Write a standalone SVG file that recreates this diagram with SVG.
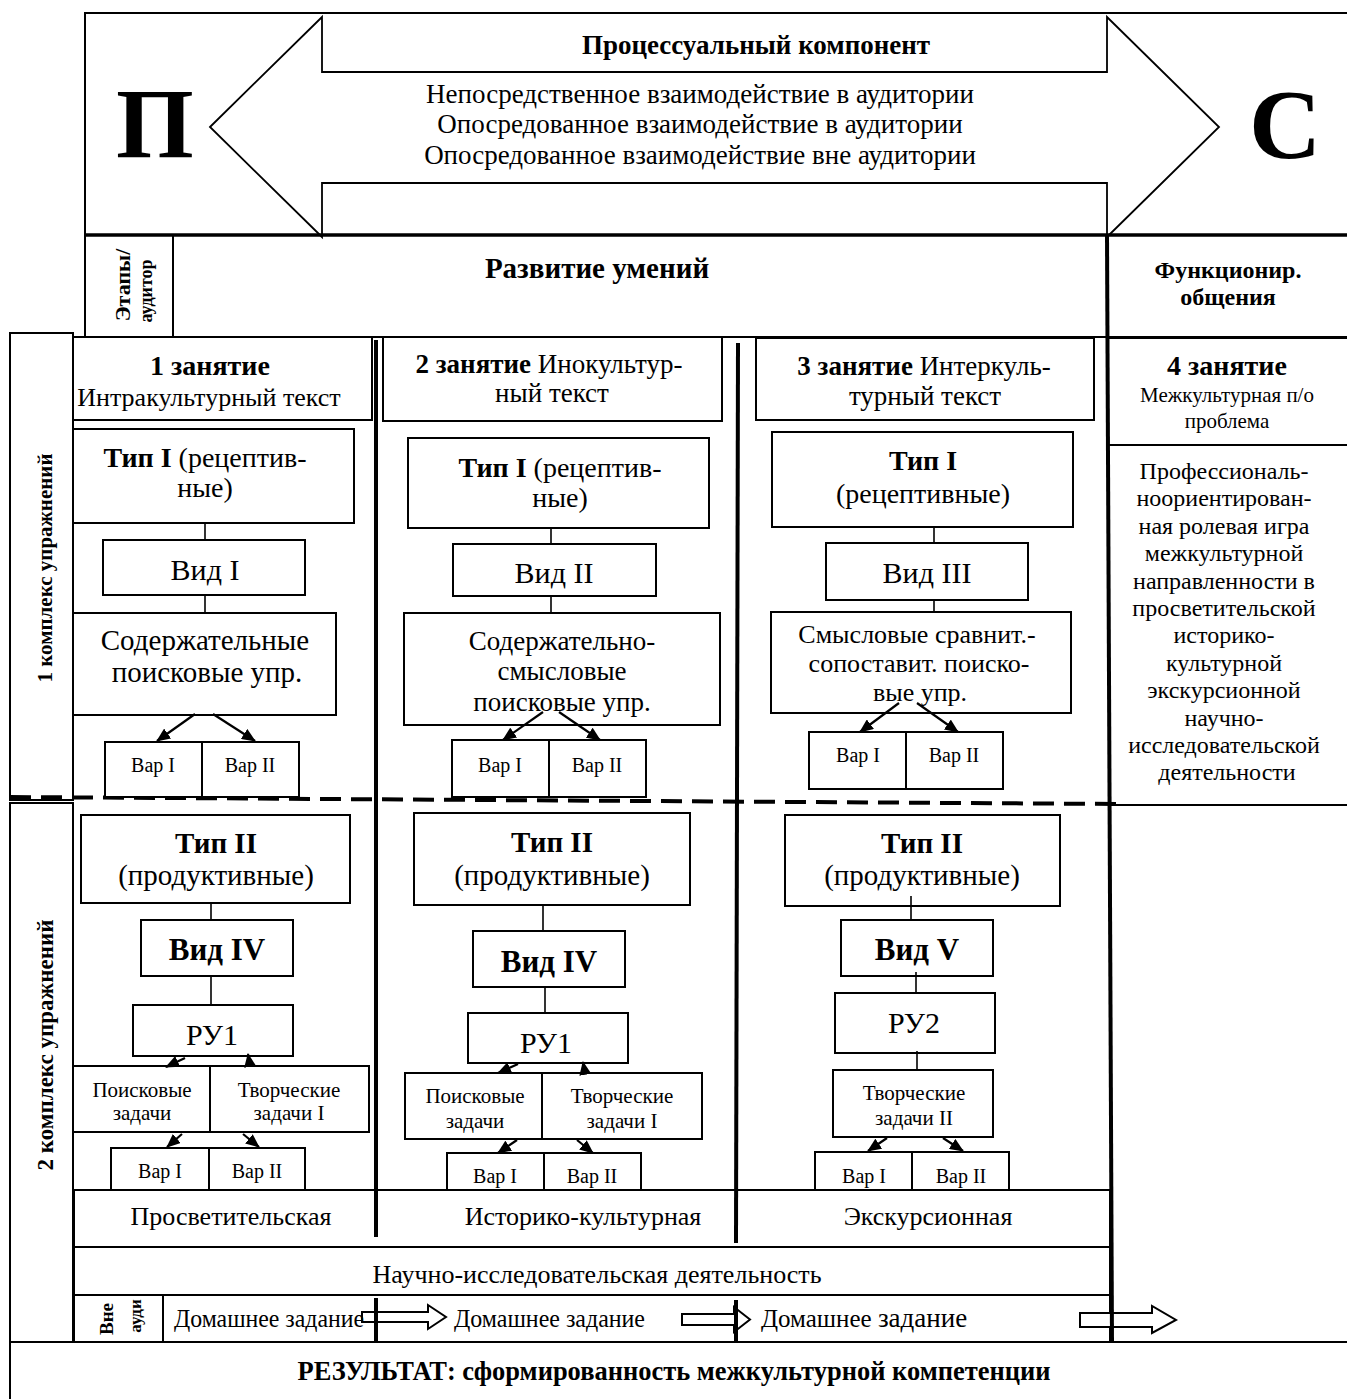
<svg xmlns="http://www.w3.org/2000/svg" width="1347" height="1399" viewBox="0 0 1347 1399">
<defs>
<style>
.b{fill:#fff;stroke:#000;stroke-width:2}
.o{fill:none;stroke:#000;stroke-width:2}
.t{font-family:'Liberation Serif','Times New Roman',serif;fill:#000;text-anchor:middle}
.s{text-anchor:start}
.bd{font-weight:bold}
.c{stroke:#000;stroke-width:1.6;fill:none}
.a{stroke:#000;stroke-width:2.2;fill:none;marker-end:url(#ah)}
.k{stroke:#000;stroke-width:4;fill:none}
.ba{fill:#fff;stroke:#000;stroke-width:2}
</style>
<marker id="ah" markerWidth="14" markerHeight="12" refX="13" refY="6" orient="auto" markerUnits="userSpaceOnUse"><path d="M0,0 L14,6 L0,12 z" fill="#000"/></marker>
</defs>
<rect width="1347" height="1399" fill="#fff"/>

<g id="top-frame">
<rect class="o" x="85" y="13" width="1275" height="222"/>
<text class="t bd" x="155" y="157" font-size="100">П</text>
<text class="t bd" x="1285" y="158" font-size="100">С</text>
</g>

<g id="process-arrow">
<polygon points="210,127 322,17 322,72 1107,72 1107,17 1219,127 1107,237 1107,183 322,183 322,237" fill="#fff" stroke="#000" stroke-width="1.8"/>
<text class="t bd" x="756" y="54" font-size="27">Процессуальный компонент</text>
<text class="t" x="700" y="103" font-size="27">Непосредственное взаимодействие в аудитории</text>
<text class="t" x="700" y="133" font-size="27">Опосредованное взаимодействие в аудитории</text>
<text class="t" x="700" y="164" font-size="27">Опосредованное взаимодействие вне аудитории</text>
</g>

<g id="row-stages">
<rect class="o" x="85" y="235" width="1275" height="102"/>
<line x1="85" y1="235" x2="1347" y2="235" stroke="#000" stroke-width="3.5"/>
<rect class="o" x="85" y="235" width="88" height="102"/>
<text class="t bd" transform="translate(130,285) rotate(-90)" font-size="22">Этапы/</text>
<text class="t bd" transform="translate(152,291) rotate(-90)" font-size="18">аудитор</text>
<text class="t bd" x="597" y="278" font-size="29">Развитие умений</text>
<text class="t bd" x="1228" y="278" font-size="24">Функционир.</text>
<text class="t bd" x="1228" y="305" font-size="24">общения</text>
</g>

<g id="complex-1">
<rect class="o" x="10" y="333" width="63" height="467"/>
<text class="t bd" transform="translate(52,568) rotate(-90)" font-size="21">1 комплекс упражнений</text>
</g>
<g id="complex-2">
<rect class="o" x="10" y="803" width="63" height="539"/>
<text class="t bd" transform="translate(53,1045) rotate(-90)" font-size="23">2 комплекс упражнений</text>
</g>

<g id="frame-lines">
<line class="o" x1="73" y1="337" x2="1347" y2="337"/>
<line x1="10" y1="797" x2="1118" y2="804" stroke="#000" stroke-width="4" stroke-dasharray="21 10"/>
<line class="o" x1="1108" y1="805" x2="1347" y2="805"/>
</g>

<g id="lesson-1-header">
<rect class="b" x="73" y="337" width="299" height="83"/>
<text class="t bd" x="210" y="375" font-size="28">1 занятие</text>
<text class="t" x="209" y="406" font-size="26">Интракультурный текст</text>
</g>
<g id="lesson-2-header">
<rect class="b" x="383" y="337" width="339" height="84"/>
<text class="t" x="549" y="373" font-size="27"><tspan class="bd">2 занятие</tspan> Инокультур-</text>
<text class="t" x="552" y="402" font-size="27">ный текст</text>
</g>
<g id="lesson-3-header">
<rect class="b" x="756" y="338" width="338" height="82"/>
<text class="t" x="924" y="375" font-size="27"><tspan class="bd">3 занятие</tspan> Интеркуль-</text>
<text class="t" x="925" y="405" font-size="27">турный текст</text>
</g>
<g id="lesson-4-header">
<rect class="b" x="1108" y="338" width="260" height="107"/>
<text class="t bd" x="1227" y="375" font-size="28">4 занятие</text>
<text class="t" x="1227" y="402" font-size="21">Межкультурная п/о</text>
<text class="t" x="1227" y="428" font-size="21">проблема</text>
</g>
<g id="lesson-4-body">
<text class="t" font-size="24">
<tspan x="1227" y="479">Профессиональ-</tspan>
<tspan x="1227" y="506.4">ноориентирован-</tspan>
<tspan x="1227" y="533.8">ная ролевая игра</tspan>
<tspan x="1227" y="561.2">межкультурной</tspan>
<tspan x="1227" y="588.6">направленности в</tspan>
<tspan x="1227" y="616">просветительской</tspan>
<tspan x="1227" y="643.4">историко-</tspan>
<tspan x="1227" y="670.8">культурной</tspan>
<tspan x="1227" y="698.2">экскурсионной</tspan>
<tspan x="1227" y="725.6">научно-</tspan>
<tspan x="1227" y="753">исследовательской</tspan>
<tspan x="1227" y="780.4">деятельности</tspan>
</text>
</g>

<!-- Column 1 upper -->
<g id="c1-type1">
<rect class="b" x="73" y="429" width="281" height="94"/>
<text class="t" x="205" y="467" font-size="28"><tspan class="bd">Тип I</tspan> (рецептив-</text>
<text class="t" x="205" y="497" font-size="28">ные)</text>
</g>
<g id="c1-vid1">
<rect class="b" x="103" y="540" width="202" height="55"/>
<text class="t" x="205" y="580" font-size="30">Вид I</text>
</g>
<g id="c1-content">
<rect class="b" x="73" y="613" width="263" height="102"/>
<text class="t" x="205" y="650" font-size="29">Содержательные</text>
<text class="t" x="207" y="682" font-size="29">поисковые упр.</text>
</g>
<g id="c1-var">
<rect class="b" x="105" y="742" width="97" height="55"/>
<rect class="b" x="202" y="742" width="97" height="55"/>
<text class="t" x="153" y="772" font-size="20">Вар I</text>
<text class="t" x="250" y="772" font-size="20">Вар II</text>
</g>

<!-- Column 2 upper -->
<g id="c2-type1">
<rect class="b" x="408" y="438" width="301" height="90"/>
<text class="t" x="560" y="477" font-size="28"><tspan class="bd">Тип I</tspan> (рецептив-</text>
<text class="t" x="560" y="507" font-size="28">ные)</text>
</g>
<g id="c2-vid2">
<rect class="b" x="453" y="544" width="203" height="52"/>
<text class="t" x="554" y="583" font-size="30">Вид II</text>
</g>
<g id="c2-content">
<rect class="b" x="404" y="613" width="316" height="112"/>
<text class="t" x="562" y="650" font-size="27">Содержательно-</text>
<text class="t" x="562" y="680" font-size="27">смысловые</text>
<text class="t" x="562" y="711" font-size="27">поисковые упр.</text>
</g>
<g id="c2-var">
<rect class="b" x="452" y="740" width="97" height="57"/>
<rect class="b" x="549" y="740" width="97" height="57"/>
<text class="t" x="500" y="772" font-size="20">Вар I</text>
<text class="t" x="597" y="772" font-size="20">Вар II</text>
</g>

<!-- Column 3 upper -->
<g id="c3-type1">
<rect class="b" x="772" y="432" width="301" height="95"/>
<text class="t bd" x="923" y="470" font-size="28">Тип I</text>
<text class="t" x="923" y="503" font-size="28">(рецептивные)</text>
</g>
<g id="c3-vid3">
<rect class="b" x="826" y="543" width="202" height="57"/>
<text class="t" x="927" y="583" font-size="30">Вид III</text>
</g>
<g id="c3-content">
<rect class="b" x="771" y="612" width="300" height="101"/>
<text class="t" x="917" y="643" font-size="26">Смысловые сравнит.-</text>
<text class="t" x="919" y="672" font-size="26">сопоставит. поиско-</text>
<text class="t" x="920" y="701" font-size="26">вые упр.</text>
</g>
<g id="c3-var">
<rect class="b" x="809" y="732" width="97" height="57"/>
<rect class="b" x="906" y="732" width="97" height="57"/>
<text class="t" x="858" y="762" font-size="20">Вар I</text>
<text class="t" x="954" y="762" font-size="20">Вар II</text>
</g>

<!-- Column 1 lower -->
<g id="c1-type2">
<rect class="b" x="81" y="815" width="269" height="88"/>
<text class="t bd" x="216" y="853" font-size="29">Тип II</text>
<text class="t" x="216" y="885" font-size="29">(продуктивные)</text>
</g>
<g id="c1-vid4">
<rect class="b" x="141" y="920" width="152" height="56"/>
<text class="t bd" x="217" y="960" font-size="31">Вид IV</text>
</g>
<g id="c1-ru1">
<rect class="b" x="133" y="1005" width="160" height="51"/>
<text class="t" x="212" y="1045" font-size="30">РУ1</text>
</g>
<g id="c1-tasks">
<rect class="b" x="73" y="1066" width="137" height="66"/>
<rect class="b" x="210" y="1066" width="159" height="66"/>
<text class="t" x="142" y="1097" font-size="21">Поисковые</text>
<text class="t" x="142" y="1120" font-size="21">задачи</text>
<text class="t" x="289" y="1097" font-size="21">Творческие</text>
<text class="t" x="289" y="1120" font-size="21">задачи I</text>
</g>
<g id="c1-var2">
<rect class="b" x="111" y="1148" width="98" height="42"/>
<rect class="b" x="209" y="1148" width="96" height="42"/>
<text class="t" x="160" y="1178" font-size="20">Вар I</text>
<text class="t" x="257" y="1178" font-size="20">Вар II</text>
</g>

<!-- Column 2 lower -->
<g id="c2-type2">
<rect class="b" x="414" y="813" width="276" height="92"/>
<text class="t bd" x="552" y="852" font-size="29">Тип II</text>
<text class="t" x="552" y="885" font-size="29">(продуктивные)</text>
</g>
<g id="c2-vid4">
<rect class="b" x="473" y="931" width="152" height="56"/>
<text class="t bd" x="549" y="972" font-size="31">Вид IV</text>
</g>
<g id="c2-ru1">
<rect class="b" x="468" y="1013" width="160" height="50"/>
<text class="t" x="546" y="1053" font-size="30">РУ1</text>
</g>
<g id="c2-tasks">
<rect class="b" x="405" y="1073" width="137" height="66"/>
<rect class="b" x="542" y="1073" width="160" height="66"/>
<text class="t" x="475" y="1103" font-size="21">Поисковые</text>
<text class="t" x="475" y="1128" font-size="21">задачи</text>
<text class="t" x="622" y="1103" font-size="21">Творческие</text>
<text class="t" x="622" y="1128" font-size="21">задачи I</text>
</g>
<g id="c2-var2">
<rect class="b" x="447" y="1153" width="97" height="37"/>
<rect class="b" x="544" y="1153" width="97" height="37"/>
<text class="t" x="495" y="1183" font-size="20">Вар I</text>
<text class="t" x="592" y="1183" font-size="20">Вар II</text>
</g>

<!-- Column 3 lower -->
<g id="c3-type2">
<rect class="b" x="785" y="815" width="275" height="91"/>
<text class="t bd" x="922" y="853" font-size="29">Тип II</text>
<text class="t" x="922" y="885" font-size="29">(продуктивные)</text>
</g>
<g id="c3-vid5">
<rect class="b" x="841" y="920" width="152" height="56"/>
<text class="t bd" x="917" y="960" font-size="31">Вид V</text>
</g>
<g id="c3-ru2">
<rect class="b" x="835" y="993" width="160" height="60"/>
<text class="t" x="914" y="1033" font-size="30">РУ2</text>
</g>
<g id="c3-tasks">
<rect class="b" x="833" y="1070" width="160" height="67"/>
<text class="t" x="914" y="1100" font-size="21">Творческие</text>
<text class="t" x="914" y="1125" font-size="21">задачи II</text>
</g>
<g id="c3-var2">
<rect class="b" x="815" y="1152" width="97" height="38"/>
<rect class="b" x="912" y="1152" width="97" height="38"/>
<text class="t" x="864" y="1183" font-size="20">Вар I</text>
<text class="t" x="961" y="1183" font-size="20">Вар II</text>
</g>

<g id="connectors">
<line class="c" x1="205" y1="523" x2="205" y2="540"/>
<line class="c" x1="205" y1="595" x2="205" y2="613"/>
<line class="a" x1="195" y1="714" x2="157" y2="741"/>
<line class="a" x1="213" y1="714" x2="255" y2="741"/>
<line class="c" x1="551" y1="528" x2="551" y2="544"/>
<line class="c" x1="551" y1="596" x2="551" y2="613"/>
<line class="a" x1="543" y1="712" x2="503" y2="740"/>
<line class="a" x1="559" y1="712" x2="600" y2="740"/>
<line class="c" x1="934" y1="527" x2="934" y2="543"/>
<line class="c" x1="934" y1="600" x2="934" y2="612"/>
<line class="a" x1="899" y1="703" x2="860" y2="732"/>
<line class="a" x1="917" y1="703" x2="958" y2="732"/>
<line class="c" x1="211" y1="903" x2="211" y2="920"/>
<line class="c" x1="211" y1="976" x2="211" y2="1005"/>
<line class="a" x1="185" y1="1058" x2="166" y2="1067"/>
<line class="a" x1="250" y1="1066" x2="248" y2="1054"/>
<line class="a" x1="182" y1="1134" x2="167" y2="1147"/>
<line class="a" x1="243" y1="1134" x2="259" y2="1147"/>
<line class="c" x1="543" y1="905" x2="543" y2="931"/>
<line class="c" x1="545" y1="987" x2="545" y2="1013"/>
<line class="a" x1="518" y1="1064" x2="498" y2="1073"/>
<line class="a" x1="585" y1="1073" x2="583" y2="1062"/>
<line class="a" x1="517" y1="1140" x2="498" y2="1153"/>
<line class="a" x1="577" y1="1140" x2="593" y2="1153"/>
<line class="c" x1="911" y1="896" x2="911" y2="920"/>
<line class="c" x1="916" y1="972" x2="916" y2="993"/>
<line class="c" x1="917" y1="1051" x2="917" y2="1070"/>
<line class="a" x1="887" y1="1138" x2="868" y2="1151"/>
<line class="a" x1="943" y1="1138" x2="963" y2="1151"/>
</g>

<g id="forms-row">
<rect class="b" x="74" y="1190" width="1036" height="57"/>
<text class="t" x="231" y="1225" font-size="26">Просветительская</text>
<text class="t" x="583" y="1225" font-size="26">Историко-культурная</text>
<text class="t" x="928" y="1225" font-size="26">Экскурсионная</text>
</g>
<g id="column-dividers">
<line class="k" x1="376" y1="340" x2="376" y2="1237"/>
<line class="k" x1="738" y1="343" x2="736" y2="1243"/>
</g>
<g id="research-row">
<rect class="b" x="74" y="1247" width="1036" height="48"/>
<text class="t" x="597" y="1283" font-size="26">Научно-исследовательская деятельность</text>
</g>
<g id="homework-row">
<rect class="b" x="74" y="1295" width="1036" height="47"/>
<rect class="b" x="74" y="1295" width="89" height="47"/>
<text class="t bd" transform="translate(113,1319) rotate(-90)" font-size="19">Вне</text>
<text class="t bd" transform="translate(141,1316) rotate(-90)" font-size="17">ауди</text>
<polygon class="ba" points="362,1312 428,1312 428,1305 446,1317 428,1329 428,1322 362,1322"/>
<polygon class="ba" points="682,1314 734,1314 734,1307 750,1319.5 734,1332 734,1325 682,1325"/>
<polygon class="ba" points="1080,1313 1152,1313 1152,1306 1176,1320 1152,1333 1152,1327 1080,1327"/>
<text class="t s" x="174" y="1327" font-size="25" textLength="190" lengthAdjust="spacingAndGlyphs">Домашнее задание</text>
<text class="t s" x="454" y="1327" font-size="25" textLength="191" lengthAdjust="spacingAndGlyphs">Домашнее задание</text>
<text class="t s" x="761" y="1327"><tspan font-size="25">Домашнее </tspan><tspan font-size="27">задание</tspan></text>
<line class="k" x1="376" y1="1298" x2="376" y2="1342"/>
<line class="k" x1="736" y1="1300" x2="736" y2="1342"/>
</g>
<line class="k" x1="1107" y1="235" x2="1112" y2="1343"/>
<line class="o" x1="74" y1="1342" x2="1347" y2="1342"/>
<g id="result">
<rect class="o" x="10" y="1342" width="1360" height="70"/>
<text class="t bd" x="674" y="1380" font-size="27" textLength="753" lengthAdjust="spacingAndGlyphs">РЕЗУЛЬТАТ: сформированность межкультурной компетенции</text>
</g>
</svg>
